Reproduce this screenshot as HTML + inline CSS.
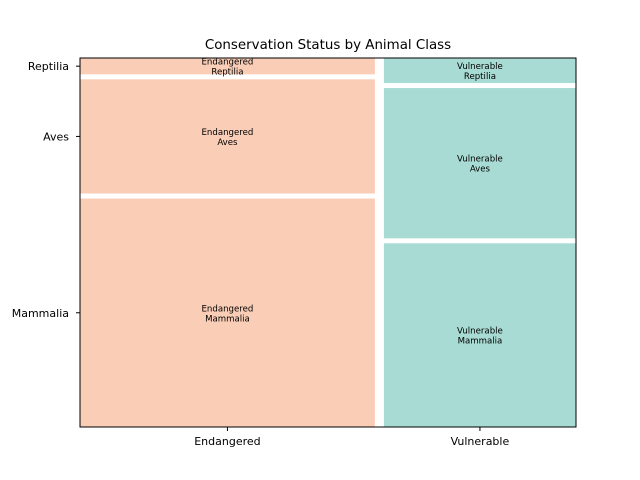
<!DOCTYPE html>
<html><head><meta charset="utf-8"><style>
body{margin:0;background:#fff;}
svg{display:block;font-family:"DejaVu Sans","Liberation Sans",sans-serif;}
</style></head><body>
<svg id="chart" width="640" height="480">
<text x="328" y="49" text-anchor="middle" font-size="13.4">Conservation Status by Animal Class</text>
<g id="tiles"></g>
<rect x="80" y="58" width="496" height="369" fill="none" stroke="#000" stroke-width="1"/>
<g id="ticks"></g>
</svg>
<script>
const statuses = ["Endangered","Vulnerable"];
const classes = ["Mammalia","Aves","Reptilia"];
const endangeredCounts = [42,21,3];
const vulnerableCounts = [22,18,3];
const colors = ["#f9cdb6","#a8dbd3"];
const series = [endangeredCounts, vulnerableCounts];

const NS="http://www.w3.org/2000/svg";
const L=80,R=576,T=58,B=427,gx=9,gy=5;
const tiles=document.getElementById('tiles'), ticks=document.getElementById('ticks');
const totals=series.map(s=>s.reduce((a,b)=>a+b,0));
const grand=totals.reduce((a,b)=>a+b,0);
const availW=(R-L)-gx*(statuses.length-1);
function mk(tag,attrs){const e=document.createElementNS(NS,tag);for(const k in attrs)e.setAttribute(k,attrs[k]);return e;}
let x=L;
statuses.forEach((st,i)=>{
  const w=availW*totals[i]/grand;
  const availH=(B-T)-gy*(classes.length-1);
  let y=B;
  classes.forEach((c,j)=>{
    const h=availH*series[i][j]/totals[i];
    y-=h;
    const r=mk('rect',{x:x,y:y,width:w,height:h,fill:colors[i]});
    
    
    tiles.appendChild(r);
    const t=mk('text',{x:x+w/2,y:y+h/2-1.5,'text-anchor':'middle','font-size':'8.6'});
    
    
    const a=mk('tspan',{x:x+w/2});a.textContent=st;
    const b=mk('tspan',{x:x+w/2,dy:'10'});b.textContent=c;
    t.appendChild(a);t.appendChild(b);tiles.appendChild(t);
    if(i===0){
      const cy=y+h/2;
      const tk=mk('line',{x1:L-4,x2:L,y1:cy,y2:cy,stroke:'#000'});
      
      
      ticks.appendChild(tk);
      const tl=mk('text',{x:L-11,y:cy+4,'text-anchor':'end','font-size':'11'});
      
      
      tl.textContent=c;ticks.appendChild(tl);
    }
    y-=gy;
  });
  const cx=x+w/2;
  const tk=mk('line',{x1:cx,x2:cx,y1:B,y2:B+4,stroke:'#000'});
  
  
  ticks.appendChild(tk);
  const tl=mk('text',{x:cx,y:B+18,'text-anchor':'middle','font-size':'11'});
  
  
  tl.textContent=st;ticks.appendChild(tl);
  x+=w+gx;
});
</script>
</body></html>
